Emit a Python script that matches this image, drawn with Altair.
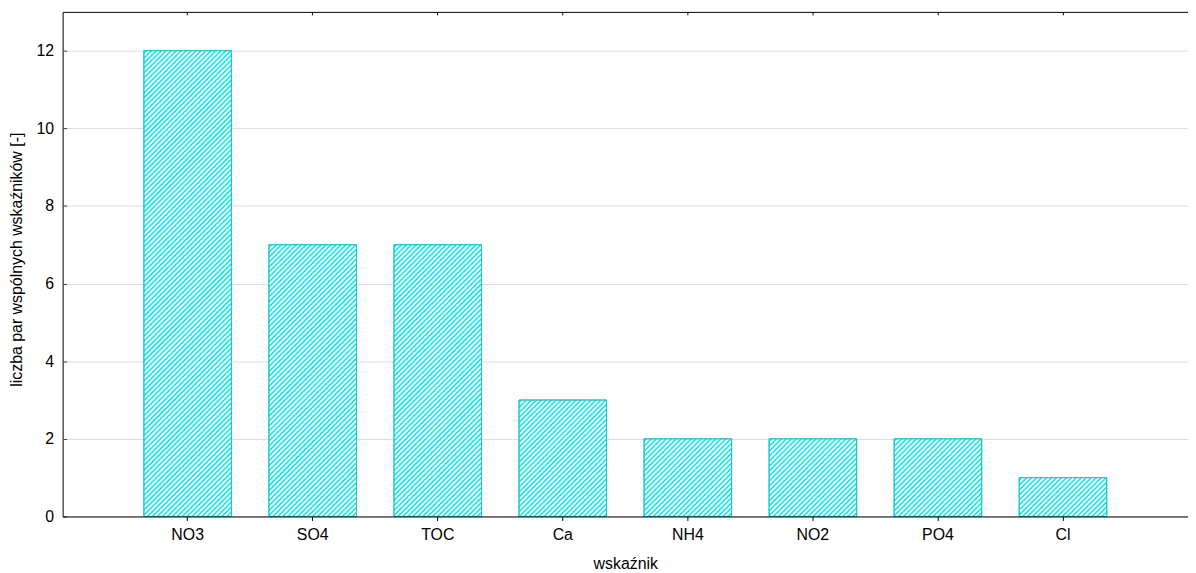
import altair as alt
import pandas as pd

# ---- data ----
categories = ["NO3", "SO4", "TOC", "Ca", "NH4", "NO2", "PO4", "Cl"]
values = [12, 7, 7, 3, 2, 2, 2, 1]
y_ticks = [0, 2, 4, 6, 8, 10, 12]
y_max = 13

x_title = "wskaźnik"
y_title = "liczba par wspólnych wskaźników [-]"

# ---- layout / style ----
W, H = 1133, 508
PAD_LEFT, PAD_TOP = 55, 2
PAD_IN, PAD_OUT = 0.3, 0.65
n_units = len(categories) - PAD_IN + 2 * PAD_OUT   # band scale length in steps
step = W / n_units                                 # px per step
bar_w = step * (1 - PAD_IN)
unit_px = H / y_max                                # px per y unit

HATCH = "#00e8f0"
EDGE = "#22c4c4"
HATCH_P = 5.0      # px between hatch lines (horizontally)
HATCH_S = 2.5      # phase of the first hatch line
FONT = "Liberation Sans"

df = pd.DataFrame({"cat": categories, "val": values, "idx": list(range(len(categories)))})

x_scale = alt.Scale(domain=categories, paddingInner=PAD_IN, paddingOuter=PAD_OUT)
hx_scale = alt.Scale(domain=[0, n_units], nice=False, zero=False)
y_scale = alt.Scale(domain=[0, y_max], nice=False, zero=True)

x_main = alt.Axis(orient="bottom", title=x_title, labelAngle=0, labelFontSize=16,
                  titleFontSize=16, titleFontWeight="normal", domainColor="#000000",
                  tickColor="#000000", tickSize=4, labelPadding=19,
                  labelBaseline="alphabetic", titleY=52, titleBaseline="alphabetic",
                  grid=False, labelColor="#000000", titleColor="#000000", zindex=1)
x_top_domain = alt.Axis(orient="top", title=None, labels=False, ticks=False,
                        domain=True, domainColor="#000000", grid=False)
x_top_ticks = alt.Axis(orient="top", title=None, labels=False, ticks=True, tickSize=3,
                       tickColor="#000000", domain=False, grid=False, offset=-3)

y_main = alt.Axis(orient="left", values=y_ticks, title=y_title, ticks=False, tickSize=0,
                  labelPadding=9, labelFontSize=16, titleFontSize=16,
                  titleFontWeight="normal", domainColor="#000000", grid=True,
                  gridColor="#dcdcdc", titleAngle=270, titleX=-46, titleY=H / 2 - 5,
                  titleAlign="center", titleBaseline="middle",
                  labelColor="#000000", titleColor="#000000")
y_in_ticks = alt.Axis(orient="left", values=y_ticks, title=None, labels=False,
                      ticks=True, tickSize=4, tickColor="#444444", domain=False,
                      grid=False, offset=-4)

base = alt.Chart(df)

bars = base.mark_bar(fill="white", stroke=EDGE, strokeWidth=1).encode(
    x=alt.X("cat:N", scale=x_scale, axis=x_main),
    y=alt.Y("val:Q", scale=y_scale, axis=y_main),
)

# '/' hatch lines clipped to each bar, computed from the bar's value
hatch = (
    base.transform_calculate(w=f"{bar_w}", h=f"datum.val * {unit_px}")
    .transform_calculate(ks=f"sequence(0, ceil((datum.w + datum.h) / {HATCH_P}))")
    .transform_flatten(["ks"])
    .transform_calculate(c=f"{HATCH_S} + {HATCH_P} * datum.ks")
    .transform_filter("datum.c < datum.w + datum.h")
    .transform_calculate(d="datum.c - datum.h")
    .transform_calculate(ya="max(0, -datum.d)", yb="min(datum.h, datum.w - datum.d)")
    .transform_calculate(
        xu0=f"{PAD_OUT} + datum.idx + (datum.ya + datum.d) / {step}",
        xu1=f"{PAD_OUT} + datum.idx + (datum.yb + datum.d) / {step}",
        yv0=f"datum.ya / {unit_px}",
        yv1=f"datum.yb / {unit_px}",
    )
    .mark_rule(stroke=HATCH, strokeWidth=1.5)
    .encode(
        x=alt.X("xu0:Q", scale=hx_scale, axis=None),
        x2="xu1:Q",
        y=alt.Y("yv0:Q", scale=y_scale, axis=None),
        y2="yv1:Q",
    )
)

outline = base.mark_bar(filled=False, stroke=EDGE, strokeWidth=1).encode(
    x=alt.X("cat:N", scale=x_scale, axis=x_top_domain),
    y=alt.Y("val:Q", scale=y_scale, axis=y_in_ticks),
)

top_ticks = base.mark_bar(opacity=0).encode(
    x=alt.X("cat:N", scale=x_scale, axis=x_top_ticks),
    y=alt.Y("val:Q", scale=y_scale, axis=None),
)

chart = (
    alt.layer(bars, hatch, outline, top_ticks)
    .resolve_scale(x="independent")
    .resolve_axis(x="independent", y="independent")
    .properties(
        width=W,
        height=H,
        padding={"left": PAD_LEFT, "top": PAD_TOP, "right": 0, "bottom": 55},
        autosize=alt.AutoSizeParams(type="none"),
    )
    .configure(font=FONT)
    .configure_view(stroke=None)
)

chart.save("out.html", embed_options={"renderer": "svg", "actions": False})
